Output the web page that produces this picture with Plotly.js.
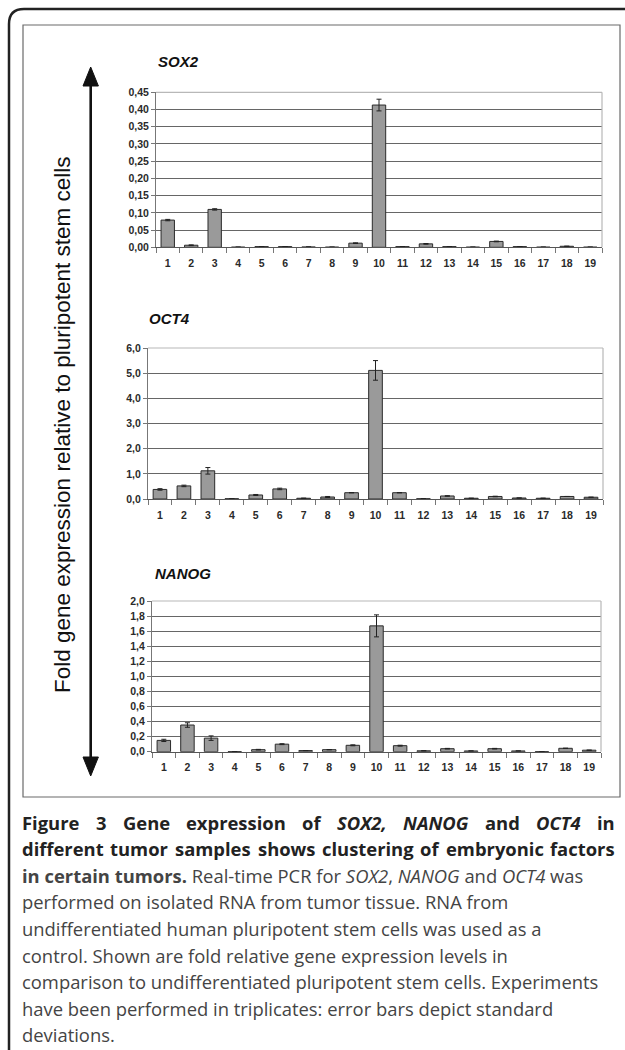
<!DOCTYPE html>
<html>
<head>
<meta charset="utf-8">
<script src="https://cdn.plot.ly/plotly-3.0.1.min.js"></script>
<style>html,body{margin:0;padding:0;background:#fff;}#chart{width:625px;height:1050px;}</style>
</head>
<body>
<div id="chart"></div>
<script>
// ---- data ----
const samples = ['1','2','3','4','5','6','7','8','9','10','11','12','13','14','15','16','17','18','19'];

const sox2Values = [0.079,0.006,0.110,0.0005,0.002,0.002,0.001,0.0005,0.012,0.413,0.002,0.010,0.002,0.0005,0.017,0.002,0.0005,0.003,0.0005];
const sox2Errors = [0.002,0.001,0.002,0,0,0,0,0,0.001,0.017,0,0.001,0,0,0.001,0,0,0,0];

const oct4Values = [0.38,0.52,1.12,0.01,0.16,0.40,0.03,0.08,0.25,5.11,0.25,0.01,0.12,0.03,0.10,0.04,0.03,0.10,0.07];
const oct4Errors = [0.03,0.03,0.13,0,0.02,0.03,0,0.02,0,0.39,0,0,0.01,0,0.01,0,0,0,0];

const nanogValues = [0.15,0.354,0.18,0.002,0.027,0.10,0.015,0.027,0.085,1.67,0.08,0.012,0.04,0.01,0.04,0.01,0.002,0.045,0.02];
const nanogErrors = [0.015,0.03,0.03,0,0.004,0.006,0,0,0.006,0.146,0.006,0,0.004,0,0.004,0,0,0,0];

const sox2Ticks = [0,0.05,0.10,0.15,0.20,0.25,0.30,0.35,0.40,0.45];
const oct4Ticks = [0,1,2,3,4,5,6];
const nanogTicks = [0,0.2,0.4,0.6,0.8,1.0,1.2,1.4,1.6,1.8,2.0];

const geneTitles = ['SOX2','OCT4','NANOG'];
const sideLabel = 'Fold gene expression relative to pluripotent stem cells';
// justified bold caption lines: [word, italic?]
const captionJustified = [
  [['Figure',0],['3',0],['Gene',0],['expression',0],['of',0],['SOX2,',1],['NANOG',1],['and',0],['OCT4',1],['in',0]],
  [['different',0],['tumor',0],['samples',0],['shows',0],['clustering',0],['of',0],['embryonic',0],['factors',0]]
];
const captionLines = [
  '<b>in certain tumors.</b> Real-time PCR for <i>SOX2</i>, <i>NANOG</i> and <i>OCT4</i> was',
  'performed on isolated RNA from tumor tissue. RNA from',
  'undifferentiated human pluripotent stem cells was used as a',
  'control. Shown are fold relative gene expression levels in',
  'comparison to undifferentiated pluripotent stem cells. Experiments',
  'have been performed in triplicates: error bars depict standard',
  'deviations.'
];

// ---- layout helpers (pixel -> paper) ----
const W = 625, H = 1050;
const px = x => x / W;
const py = y => 1 - y / H;

const panels = [
  {vals: sox2Values, errs: sox2Errors, ticks: sox2Ticks, range:[0,0.45], fmt:'.2f', x0:156, x1:602, yTop:92.3, yBot:247.3, tx:157, ty:62},
  {vals: oct4Values, errs: oct4Errors, ticks: oct4Ticks, range:[0,6], fmt:'.1f', x0:148, x1:603, yTop:348, yBot:499, tx:148, ty:318},
  {vals: nanogValues, errs: nanogErrors, ticks: nanogTicks, range:[0,2], fmt:'.1f', x0:152, x1:601, yTop:601, yBot:751.7, tx:154, ty:573}
];

const tickFont = {family:'"Liberation Sans", Arial, sans-serif', size:10.5, color:'#2a2a2a', weight:'bold'};

const traces = [];
const layout = {
  width: W, height: H,
  margin: {l:0, r:0, t:0, b:0},
  paper_bgcolor: '#fff', plot_bgcolor: 'rgba(0,0,0,0)',
  showlegend: false,
  separators: ', ',
  bargap: 0.43,
  shapes: [], annotations: []
};

panels.forEach((p, i) => {
  const n = i === 0 ? '' : String(i + 1);
  traces.push({
    type: 'bar', x: samples, y: p.vals,
    xaxis: 'x' + n, yaxis: 'y' + n,
    marker: {color: '#9a9a9a', line: {color: '#2b2b2b', width: 1}},
    error_y: {type: 'data', array: p.errs, visible: true, color: '#222', thickness: 1, width: 2.5},
    hoverinfo: 'x+y'
  });
  layout['xaxis' + n] = {
    type: 'category', domain: [px(p.x0), px(p.x1)], anchor: 'y' + n,
    showgrid: false, zeroline: false,
    showline: true, linecolor: '#555', linewidth: 1,
    ticks: 'outside', tickson: 'boundaries', ticklen: 5, tickcolor: '#777', tickwidth: 1,
    ticklabelstandoff: 6,
    tickfont: tickFont, fixedrange: true
  };
  layout['yaxis' + n] = {
    domain: [py(p.yBot), py(p.yTop)], anchor: 'x' + n,
    range: p.range, tickvals: p.ticks, tickformat: p.fmt,
    showgrid: true, gridcolor: '#666', gridwidth: 1,
    zeroline: false, showline: true, linecolor: '#777', linewidth: 1,
    ticks: 'outside', ticklen: 4, tickcolor: '#777',
    tickfont: tickFont, fixedrange: true
  };
  layout.shapes.push({type:'line', xref:'paper', yref:'paper', x0:px(p.x0), x1:px(p.x1), y0:py(p.yTop), y1:py(p.yTop), line:{color:'#b8b8b8', width:1.2}, layer:'above'});
  layout.shapes.push({type:'line', xref:'paper', yref:'paper', x0:px(p.x1), x1:px(p.x1), y0:py(p.yTop), y1:py(p.yBot), line:{color:'#b8b8b8', width:1.2}, layer:'above'});
  layout.annotations.push({
    text: '<b><i>' + geneTitles[i] + '</i></b>', xref:'paper', yref:'paper',
    x: px(p.tx), y: py(p.ty), xanchor:'left', yanchor:'middle', showarrow:false, borderpad:0,
    font: {family:'"Liberation Sans", Arial, sans-serif', size:15, color:'#111'}
  });
});

// outer rounded frame
const fr = `M ${px(9)} ${py(1052)} L ${px(9)} ${py(24)} Q ${px(9)} ${py(9)} ${px(24)} ${py(9)} L ${px(627)} ${py(9)}`;
layout.shapes.push({type:'path', xref:'paper', yref:'paper', path: fr, line:{color:'#222', width:2.5}, layer:'above'});
// inner figure box
layout.shapes.push({type:'rect', xref:'paper', yref:'paper', x0:px(23), x1:px(620), y0:py(797), y1:py(25), line:{color:'#6a6a6a', width:1.2}, layer:'below'});
// double-headed arrow
layout.shapes.push({type:'line', xref:'paper', yref:'paper', x0:px(90.7), x1:px(90.7), y0:py(82), y1:py(760), line:{color:'#111', width:2.6}, layer:'above'});
layout.shapes.push({type:'path', xref:'paper', yref:'paper', path:`M ${px(83)} ${py(86)} L ${px(90.7)} ${py(67)} L ${px(98.4)} ${py(86)} Z`, fillcolor:'#111', line:{color:'#111', width:1}, layer:'above'});
layout.shapes.push({type:'path', xref:'paper', yref:'paper', path:`M ${px(83)} ${py(757)} L ${px(90.7)} ${py(776)} L ${px(98.4)} ${py(757)} Z`, fillcolor:'#111', line:{color:'#111', width:1}, layer:'above'});

// side label
layout.annotations.push({
  text: sideLabel, xref:'paper', yref:'paper', x: px(62), y: py(425),
  xanchor:'center', yanchor:'middle', textangle:-90, showarrow:false,
  font: {family:'"Liberation Sans", Arial, sans-serif', size:22.5, color:'#111'}
});

// caption
const capFam = '"Open Sans"';
const capSize = 18.4;
const capTop = 822, capStep = 26.6, capLeft = 22, capRight = 615;
const cv = document.createElement('canvas').getContext('2d');
captionJustified.forEach((words, k) => {
  const widths = words.map(([w, it]) => {
    cv.font = `${it ? 'italic ' : ''}bold ${capSize}px ${capFam}`;
    return cv.measureText(w).width;
  });
  const total = widths.reduce((a, b) => a + b, 0);
  const gap = (capRight - capLeft - total) / (words.length - 1);
  let x = capLeft;
  words.forEach(([w, it], j) => {
    layout.annotations.push({
      text: it ? '<b><i>' + w + '</i></b>' : '<b>' + w + '</b>',
      xref:'paper', yref:'paper', x: px(x), y: py(capTop + k * capStep),
      xanchor:'left', yanchor:'middle', showarrow:false, borderpad:0, borderwidth:0,
      font: {family: capFam, size: capSize, color:'#222'}
    });
    x += widths[j] + gap;
  });
});
captionLines.forEach((t, k) => {
  layout.annotations.push({
    text: t, xref:'paper', yref:'paper', x: px(capLeft), y: py(capTop + (k + 2) * capStep),
    xanchor:'left', yanchor:'middle', showarrow:false, align:'left', borderpad:0, borderwidth:0,
    font: {family: capFam, size: capSize, color: '#444'}
  });
});

Plotly.newPlot('chart', traces, layout, {displayModeBar:false, staticPlot:true});
</script>
</body>
</html>
